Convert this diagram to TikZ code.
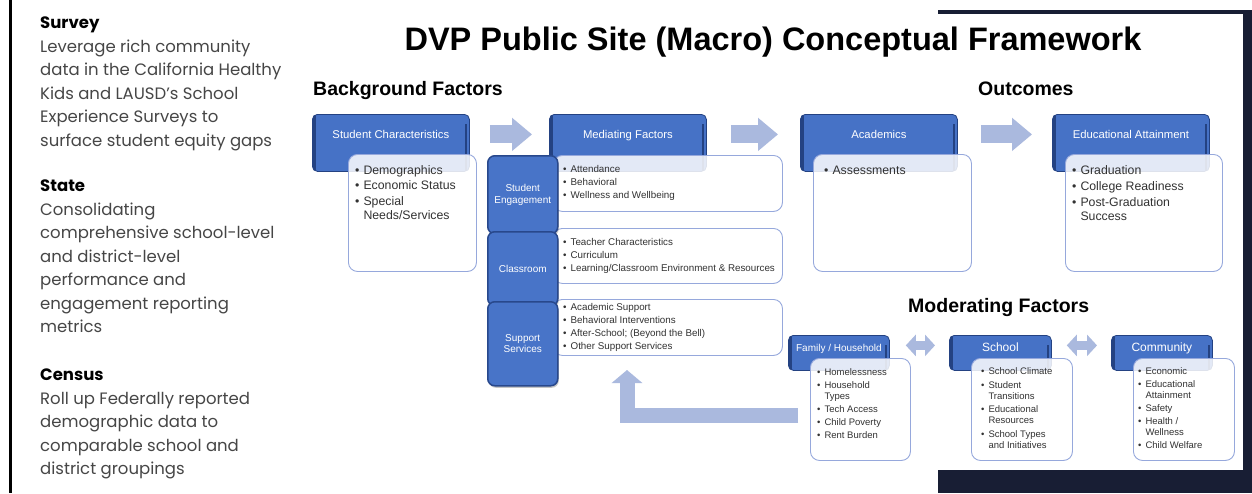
\documentclass[tikz,border=0pt]{standalone}
\usepackage{fontspec}
\setmainfont{Liberation Sans}
\newfontfamily\panelfont{Poppins}
\usetikzlibrary{arrows.meta,calc,shadows}
\definecolor{hdrblue}{RGB}{70,114,198}
\definecolor{hdrdark}{RGB}{36,66,130}
\definecolor{bodyline}{RGB}{150,168,220}
\definecolor{arrowc}{RGB}{170,185,222}
\definecolor{tabblue}{RGB}{72,116,200}
\definecolor{tabdark}{RGB}{40,72,140}
\definecolor{darkbg}{RGB}{24,30,52}
\definecolor{paneltext}{RGB}{70,70,70}
\definecolor{itemtext}{RGB}{50,50,50}
\newcommand\fs[2]{\fontsize{#1}{#2}\selectfont}
\newcommand\blist[1]{\begin{tabular}{@{}l@{\hspace{4pt}}l@{}}#1\end{tabular}}
\begin{document}
\begin{tikzpicture}[x=1pt,y=-1pt,
  panel/.style={font=\panelfont\fs{16.5}{23.5}, text=paneltext, align=left, inner sep=0pt, anchor=north west},
  sect/.style={font=\fs{19.5}{22}\bfseries, inner sep=0pt, anchor=base west},
  hdr/.style={fill=hdrblue, draw=hdrdark, line width=0.8pt, rounded corners=5pt,
    minimum width=157pt, minimum height=57pt, inner sep=0pt, text=white,
    font=\fs{11.3}{13}, text height=24pt, text depth=33pt, anchor=north west,
    path picture={\draw[hdrdark, line width=2.5pt] ([xshift=2pt]path picture bounding box.north west) -- ([xshift=2pt]path picture bounding box.south west);
      \draw[hdrdark,line width=2pt] ([xshift=-3pt,yshift=-10pt]path picture bounding box.north east) -- ([xshift=-3pt]path picture bounding box.south east);}},
  mhdr/.style={hdr, minimum width=101pt, minimum height=35pt, text height=16pt, text depth=19pt, font=\fs{10}{12}},
  body/.style={draw=bodyline, line width=0.9pt, fill=white, fill opacity=0.85, rounded corners=9pt, anchor=north west, inner sep=0pt},
  tab/.style={fill=tabblue, draw=tabdark, line width=1.5pt, rounded corners=7pt, minimum width=70pt, inner sep=0pt,
    anchor=north west, text=white, align=center, font=\fs{10}{11.5},
    drop shadow={shadow xshift=1pt, shadow yshift=-2pt, opacity=0.45}},
  itm/.style={font=\fs{9.8}{13}, text=itemtext, inner sep=0pt, anchor=north west},
  itmb/.style={font=\fs{12.3}{14}, text=itemtext, inner sep=0pt, anchor=north west},
  itms/.style={font=\fs{9.5}{11}, text=itemtext, inner sep=0pt, anchor=north west},
  barrow/.style={draw=arrowc, line width=18pt, -{Triangle[width=32pt,length=20pt]}},
  dbl/.style={draw=arrowc, line width=9pt, {Triangle[width=21pt,length=10pt]}-{Triangle[width=21pt,length=10pt]}},
  fbarrow/.style={draw=arrowc, line width=15pt, line join=miter, -{Triangle[width=30pt,length=13pt]}}
]
\useasboundingbox (0,0) rectangle (1252,493);
\fill[white] (0,0) rectangle (1252,493);
\fill[black] (9,0) rectangle (12,493);

% left panel
\node[panel] (survey) at (40,17) {{\color{black}\bfseries Survey}\\Leverage rich community\\data in the California Healthy\\Kids and LAUSD’s School\\Experience Surveys to\\surface student equity gaps};
\node[panel] (state) at (40,180) {{\color{black}\bfseries State}\\Consolidating\\comprehensive school-level\\and district-level\\performance and\\engagement reporting\\metrics};
\node[panel] (census) at (40,369) {{\color{black}\bfseries Census}\\Roll up Federally reported\\demographic data to\\comparable school and\\district groupings};

% titles
\node[font=\fs{32.5}{38}\bfseries, inner sep=0pt, anchor=base] (title) at (773,50) {DVP Public Site (Macro) Conceptual Framework};
\node[sect] (bgf) at (313,95) {Background Factors};
\node[sect] (outc) at (978,95) {Outcomes};
\node[sect] (modf) at (908,312) {Moderating Factors};

% headers
\node[hdr] (stu) at (312,114) {Student Characteristics};
\node[hdr] (med) at (549,114) {Mediating Factors};
\node[hdr] (aca) at (800,114) {Academics};
\node[hdr] (edu) at (1052,114) {Educational Attainment};

% block arrows
\draw[barrow] ($(stu.east)+(20,-8.5)$) -- ($(med.west)+(-17,-8.5)$);
\draw[barrow] ($(med.east)+(24,-8.5)$) -- ($(aca.west)+(-22,-8.5)$);
\draw[barrow] ($(aca.east)+(23,-8.5)$) -- ($(edu.west)+(-20,-8.5)$);

% bodies
\node[body, minimum width=128pt, minimum height=117pt] (stub) at (348,154) {};
\node[itmb] (stul) at (355,164.2) {\blist{•&Demographics\\[1.5pt]•&Economic Status\\[1.5pt]•&Special\\&Needs/Services}};

\node[body, minimum width=229pt, minimum height=56pt] (mr1) at (553,155) {};
\node[body, minimum width=229pt, minimum height=55pt] (mr2) at (553,228) {};
\node[body, minimum width=229pt, minimum height=56pt] (mr3) at (553,299) {};
\node[itm] (mr1l) at (563,163.4) {\blist{•&Attendance\\•&Behavioral\\•&Wellness and Wellbeing}};
\node[itm] (mr2l) at (563,236.4) {\blist{•&Teacher Characteristics\\•&Curriculum\\•&Learning/Classroom Environment \& Resources}};
\node[itm] (mr3l) at (563,301.4) {\blist{•&Academic Support\\•&Behavioral Interventions\\•&After-School; (Beyond the Bell)\\•&Other Support Services}};

\node[tab, minimum height=78pt] (tse) at (487,155) {Student\\Engagement};
\node[tab, minimum height=74pt] (tcl) at (487,231) {Classroom};
\node[tab, minimum height=84pt] (tss) at (487,301) {Support\\Services};

\node[body, minimum width=158pt, minimum height=117pt] (acab) at (813,154) {};
\node[itmb] (acal) at (824,164.2) {\blist{•&Assessments}};

\node[body, minimum width=157pt, minimum height=117pt] (edub) at (1065,154) {};
\node[itmb] (edul) at (1072,164.2) {\blist{•&Graduation\\[2pt]•&College Readiness\\[2pt]•&Post-Graduation\\&Success}};

% moderating factors
\node[mhdr] (fam) at (788,335) {Family / Household};
\node[mhdr, minimum width=102pt, font=\fs{12}{14}] (sco) at (949,335) {School};
\node[mhdr, font=\fs{12}{14}] (com) at (1111,335) {Community};

\draw[dbl] ($(fam.east)+(16,-7.5)$) -- ($(sco.west)+(-14,-7.5)$);
\draw[dbl] ($(sco.east)+(15,-7.5)$) -- ($(com.west)+(-14,-7.5)$);

\node[body, minimum width=100pt, minimum height=102pt] (famb) at (810,358) {};
\node[body, minimum width=101pt, minimum height=102pt] (scob) at (971,358) {};
\node[body, minimum width=101pt, minimum height=102pt] (comb) at (1133,358) {};
\node[itms] (faml) at (817,367.8) {\blist{•&Homelessness\\[2pt]•&Household\\&Types\\[2pt]•&Tech Access\\[2pt]•&Child Poverty\\[2pt]•&Rent Burden}};
\node[itms] (scol) at (981,366.8) {\blist{•&School Climate\\[2.5pt]•&Student\\&Transitions\\[2.5pt]•&Educational\\&Resources\\[2.5pt]•&School Types\\&and Initiatives}};
\node[itms] (coml) at (1138,366.8) {\blist{•&Economic\\[2pt]•&Educational\\&Attainment\\[2pt]•&Safety\\[2pt]•&Health /\\&Wellness\\[2pt]•&Child Welfare}};

% feedback arrow
\coordinate (fbtip) at (627,370);
\draw[fbarrow] ($(famb.west)+(-12,6.5)$) -| (fbtip);

% dark frame
\fill[darkbg] (938,10) rectangle (1252,14);
\fill[darkbg] (1243,10) rectangle (1252,493);
\fill[darkbg] (938,470) rectangle (1252,493);
\end{tikzpicture}
\end{document}
